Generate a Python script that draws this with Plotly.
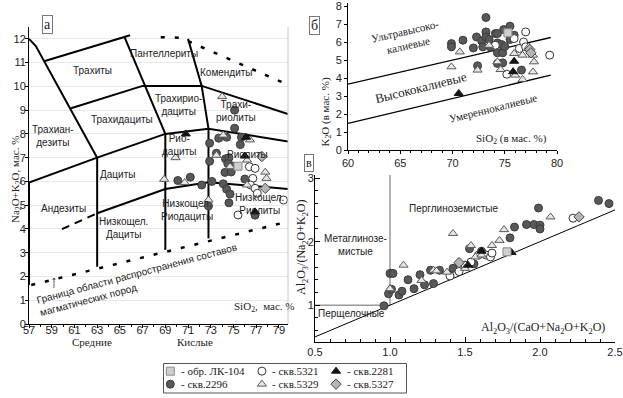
import plotly.graph_objects as go

W, H = 623, 398


def fx(px):
    return px / W


def fy(py):
    return 1 - py / H


# ---------------- data: panel а (TAS, SiO2 vs Na2O+K2O) ----------------
TAS_2296 = [(75.1, 9.0), (75.1, 8.24), (72.9, 7.61), (73.7, 7.82), (74.4, 7.86), (75.7, 7.86),
            (75.6, 7.55), (73.5, 7.19), (72.9, 6.85), (74.3, 6.95), (74.6, 7.0), (74.5, 6.75),
            (74.9, 6.65), (74.25, 6.38), (74.8, 6.4), (76.0, 6.1), (70.1, 6.04), (71.2, 6.18),
            (72.2, 5.85), (73.1, 6.0), (74.1, 5.9), (74.4, 5.67), (74.7, 5.47), (72.8, 4.97),
            (74.6, 5.1), (76.9, 4.58)]
TAS_5321 = [(76.4, 6.62), (76.9, 6.55), (76.7, 6.13), (76.5, 5.85), (76.9, 5.71), (77.1, 5.5),
            (75.4, 4.59), (79.4, 5.22)]
TAS_5329 = [(74.0, 9.57), (68.9, 6.09), (70.7, 5.95), (69.9, 7.0), (74.1, 7.95), (76.45, 7.75),
            (73.5, 7.1), (74.7, 6.62), (76.2, 6.9), (77.8, 6.39), (77.9, 6.13), (76.2, 5.85),
            (72.8, 5.22)]
TAS_2281 = [(70.8, 8.0), (76.0, 7.07), (76.1, 7.86), (76.9, 4.72)]
TAS_5327 = [(77.5, 7.05), (77.8, 5.71)]
TAS_LK104 = [(75.4, 6.64)]

# classification boundaries of panel а
TAS_SOLID = [
    [(57, 12.0), (57.6, 11.7), (63, 7.0)],
    [(58.4, 11.07), (65.9, 12.15)],
    [(60.7, 9.08), (67.0, 10.02), (72.2, 10.02), (79.8, 8.84)],
    [(65.4, 12.08), (69.0, 8.0)],
    [(71.0, 12.0), (72.2, 10.02), (72.8, 8.22)],
    [(57, 5.95), (63, 7.0), (69.0, 8.0), (72.8, 8.22), (79.8, 7.68)],
    [(72.8, 8.22), (72.8, 3.6)],
    [(69.0, 8.0), (69.0, 3.12)],
    [(63.0, 7.0), (63.0, 2.41)],
    [(57.0, 5.95), (57.0, 1.64)],
    [(63.0, 4.66), (69.0, 5.68), (72.8, 5.97), (79.8, 5.68)],
]
TAS_DASHED = [[(59.9, 3.99), (63.0, 4.66)]]
TAS_DOTTED = [
    [(57.2, 1.64), (79.2, 4.24)],
    [(68.6, 12.07), (70.3, 12.05), (71.5, 11.8), (79.5, 10.13)],
]

# ---------------- data: panel б (SiO2 vs K2O) ----------------
K_2296 = [(69.9, 5.91), (69.9, 5.73), (71.0, 6.10), (72.0, 5.67), (72.3, 6.28), (72.4, 4.68),
          (72.8, 6.06), (72.9, 5.73), (73.2, 7.36), (73.2, 6.56), (73.2, 6.28), (73.5, 6.14),
          (73.6, 5.73), (74.1, 6.47), (74.3, 6.47), (74.3, 5.95), (74.3, 5.40), (74.3, 4.81),
          (74.7, 5.86), (74.8, 5.40), (74.8, 4.84), (74.9, 6.69), (75.5, 6.88), (75.5, 6.14),
          (75.9, 6.38), (76.6, 4.44), (75.0, 5.75)]
K_5321 = [(74.1, 5.82), (75.2, 4.21), (76.4, 5.64), (76.8, 6.0), (77.0, 5.73), (77.0, 6.56),
          (79.3, 5.27), (75.9, 6.19)]
K_5329 = [(69.9, 4.62), (70.7, 5.45), (72.4, 4.44), (73.5, 5.82), (74.3, 4.90), (74.6, 4.47),
          (75.9, 5.36), (76.0, 4.16), (76.7, 5.27), (76.7, 3.92), (77.3, 5.73), (77.7, 5.27),
          (77.8, 4.90), (77.7, 4.34)]
K_2281 = [(70.6, 3.14), (75.8, 4.35), (75.9, 4.93)]
K_5327 = [(77.4, 5.58), (77.5, 5.4)]
K_LK104 = [(75.3, 6.51)]
K_LINES = [[(60, 3.66), (79.4, 6.25)], [(60, 1.48), (79.4, 4.16)]]

# ---------------- data: panel в (A/CNK vs A/NK) ----------------
A_2296 = [(0.96, 0.99), (1.0, 1.50), (1.02, 1.50), (0.99, 1.18), (1.01, 1.25), (1.06, 1.16),
          (1.08, 1.22), (1.12, 1.40), (1.16, 1.26), (1.20, 1.48), (1.23, 1.32), (1.29, 1.34),
          (1.27, 1.55), (1.33, 1.55), (1.42, 1.58), (1.53, 1.89), (1.56, 1.65), (1.61, 1.85),
          (1.80, 2.06), (1.83, 2.23), (1.91, 2.27), (1.96, 2.27), (1.99, 2.53), (2.0, 2.26),
          (2.0, 2.20), (2.39, 2.65), (2.46, 2.60)]
A_5321 = [(1.40, 1.46), (1.46, 1.53), (1.50, 1.63), (1.54, 1.68), (1.59, 1.79), (1.64, 1.79),
          (1.67, 1.76), (1.68, 1.82), (2.22, 2.37)]
A_5329 = [(1.0, 1.26), (1.09, 1.63), (1.21, 1.39), (1.29, 1.55), (1.31, 1.54), (1.38, 1.52),
          (1.42, 2.13), (1.46, 1.68), (1.50, 1.58), (1.54, 1.94), (1.57, 1.76), (1.61, 1.79),
          (1.68, 1.94), (1.73, 2.02), (1.76, 2.19), (2.07, 2.39)]
A_2281 = [(1.61, 1.85), (1.52, 1.63), (1.81, 1.83)]
A_5327 = [(2.26, 2.39), (1.46, 1.67)]
A_LK104 = [(1.78, 1.84)]
A_REF = [(0.5, 0.5), (2.5, 2.5)]
A_GRAY = [[(1.0, 1.0), (1.0, 3.05)], [(0.5, 1.0), (1.0, 1.0)]]

SERIES = ["скв.2296", "скв.5321", "скв.5329", "скв.2281", "скв.5327", "обр. ЛК-104"]
PANEL_DATA = {
    "a": [TAS_2296, TAS_5321, TAS_5329, TAS_2281, TAS_5327, TAS_LK104],
    "b": [K_2296, K_5321, K_5329, K_2281, K_5327, K_LK104],
    "c": [A_2296, A_5321, A_5329, A_2281, A_5327, A_LK104],
}
STYLE = {
    "обр. ЛК-104": dict(symbol="square", color="#cfcfcf", line=dict(color="#8a8a8a", width=1), size=8),
    "скв.2296": dict(symbol="circle", color="#585858", line=dict(color="#3c3c3c", width=1), size=8),
    "скв.5321": dict(symbol="circle", color="white", line=dict(color="#333333", width=1), size=8),
    "скв.5329": dict(symbol="triangle-up", color="#e6e6e6", line=dict(color="#5a5a5a", width=1), size=8),
    "скв.2281": dict(symbol="triangle-up", color="#151515", line=dict(color="#151515", width=1), size=8),
    "скв.5327": dict(symbol="diamond", color="#b4b4b4", line=dict(color="#454545", width=1), size=8),
}

fig = go.Figure()

AX = {"a": ("x", "y"), "b": ("x2", "y2"), "c": ("x3", "y3")}


def add_line(pts, ax, color="black", width=2, dash="solid"):
    fig.add_trace(go.Scatter(x=[p[0] for p in pts], y=[p[1] for p in pts], mode="lines",
                             xaxis=ax[0], yaxis=ax[1], line=dict(color=color, width=width, dash=dash),
                             hoverinfo="skip", showlegend=False))


for seg in TAS_SOLID:
    add_line(seg, AX["a"], width=2)
for seg in TAS_DASHED:
    add_line(seg, AX["a"], width=2, dash="8px,6px")
for seg in TAS_DOTTED:
    add_line(seg, AX["a"], width=2.5, dash="4px,10px")
for seg in K_LINES:
    add_line(seg, AX["b"], width=1.3)
for seg in A_GRAY:
    add_line(seg, AX["c"], color="#9a9a9a", width=1.5)
add_line(A_REF, AX["c"], width=1)

for key, lists in PANEL_DATA.items():
    for name, pts in zip(SERIES, lists):
        st = STYLE[name]
        fig.add_trace(go.Scatter(
            x=[p[0] for p in pts], y=[p[1] for p in pts], mode="markers",
            xaxis=AX[key][0], yaxis=AX[key][1], showlegend=False, name=name,
            marker=dict(symbol=st["symbol"], color=st["color"], size=st["size"], line=st["line"])))

# legend keys drawn on a helper axis
LEG_ORDER = ["обр. ЛК-104", "скв.5321", "скв.2281", "скв.2296", "скв.5329", "скв.5327"]
LEG_COL = [0.028, 0.405, 0.71]
LEG_ROW = [0.74, 0.30]
for i, name in enumerate(LEG_ORDER):
    st = STYLE[name]
    fig.add_trace(go.Scatter(x=[LEG_COL[i % 3]], y=[LEG_ROW[i // 3]], mode="markers",
                             xaxis="x4", yaxis="y4", showlegend=False,
                             marker=dict(symbol=st["symbol"], color=st["color"], size=8, line=st["line"])))

SANS = "Liberation Sans"
SERIF = "Liberation Serif"
tickfont = dict(family=SANS, size=11, color="#222")


def axis(domain, rng, **kw):
    d = dict(domain=domain, range=rng, showline=True, linecolor="black", linewidth=1,
             ticks="outside", ticklen=3, tickcolor="black", showgrid=False, zeroline=False,
             tickfont=tickfont, fixedrange=True, automargin=False, ticklabeloverflow="allow")
    d.update(kw)
    return d


MINOR = dict(ticks="outside", ticklen=2, tickcolor="black")
MINOR_IN = dict(ticks="inside", ticklen=3, tickcolor="black")
fig.update_layout(
    template="none",
    width=W, height=H, margin=dict(l=0, r=0, t=0, b=0, pad=0),
    paper_bgcolor="white", plot_bgcolor="white",
    xaxis=axis([fx(29), fx(288)], [57, 79.8], anchor="y", tick0=57, dtick=2,
               ticklabelstandoff=-7, minor=dict(dtick=1, **MINOR)),
    yaxis=axis([fy(324), fy(27)], [0, 12.5], anchor="x", tick0=0, dtick=1,
               ticklabelstandoff=-3, showgrid=True, gridcolor="#e8e8e8", gridwidth=1),
    xaxis2=axis([fx(348), fx(557)], [60, 80], anchor="y2", tick0=60, dtick=5,
                minor=dict(dtick=1, **MINOR)),
    yaxis2=axis([fy(150), fy(3.3)], [0, 8.15], anchor="x2", tick0=0, dtick=1),
    xaxis3=axis([fx(315), fx(615)], [0.5, 2.5], anchor="y3", tick0=0.5, dtick=0.5, tickformat=".1f",
                ticks="inside", ticklen=5, minor=dict(dtick=0.1, **MINOR_IN)),
    yaxis3=axis([fy(342), fy(175)], [0.42, 3.05], anchor="x3", tick0=1, dtick=1,
                ticks="inside", ticklen=5, ticklabelstandoff=-2, minor=dict(dtick=0.2, **MINOR_IN)),
    xaxis4=dict(domain=[fx(163.5), fx(406.5)], range=[0, 1], visible=False, anchor="y4",
                fixedrange=True, automargin=False),
    yaxis4=dict(domain=[fy(393), fy(363.5)], range=[0, 1], visible=False, anchor="x4",
                fixedrange=True, automargin=False),
    showlegend=False,
)

shapes = [
    dict(type="line", xref="paper", yref="paper", x0=fx(288), x1=fx(288), y0=fy(324), y1=fy(27),
         line=dict(color="#c8c8c8", width=1)),
    dict(type="rect", xref="paper", yref="paper", x0=fx(163.5), x1=fx(406.5), y0=fy(393), y1=fy(363.5),
         line=dict(color="#555", width=1)),
]
fig.update_layout(shapes=shapes)

ann = []


def txt(x, y, s, xref, yref, size=10, family=SANS, angle=0, align="center", **kw):
    d = dict(x=x, y=y, xref=xref, yref=yref, text=s, showarrow=False, textangle=angle, align=align,
             font=dict(family=family, size=size, color="#222"))
    d.update(kw)
    ann.append(d)


# panel а labels
for x, y, s in [
    (62.6, 10.65, "Трахиты"), (68.9, 11.37, "Пантеллериты"), (74.4, 10.57, "Комендиты"),
    (70.2, 9.2, "Трахирио-<br>дациты"), (75.2, 8.95, "Трахи-<br>риолиты"),
    (65.2, 8.6, "Трахидациты"), (59.1, 7.9, "Трахиан-<br>дезиты"), (70.2, 7.55, "Рио-<br>дациты"),
    (76.2, 7.15, "Риолиты"), (64.8, 6.3, "Дациты"), (60.0, 4.85, "Андезиты"),
    (65.3, 4.05, "Низкощел.<br>Дациты"), (70.9, 4.8, "Низкощел.<br>Риодациты"),
    (77.3, 5.05, "Низкощел.<br>Риолиты"),
]:
    txt(x, y, s, "x", "y")
txt(66.6, 1.85, "Граница области распространения составов<br>магматических пород", "x", "y",
    size=10, angle=-15, align="left")
ann.append(dict(x=59.2, y=1.95, ax=59.2, ay=1.45, xref="x", yref="y", axref="x", ayref="y",
                showarrow=True, arrowhead=1, arrowsize=0.8, arrowwidth=0.8, arrowcolor="#333", text=""))
txt(fx(264), fy(316), "SiO<sub>2</sub>,  мас. %", "paper", "paper", size=11, family=SERIF)
txt(fx(7), fy(180), "Na<sub>2</sub>O+K<sub>2</sub>O, мас. %", "paper", "paper", size=11, family=SERIF, angle=-90)
txt(fx(70), fy(350), "Средние", "paper", "paper", size=11, family=SERIF)
txt(fx(175), fy(350), "Кислые", "paper", "paper", size=11, family=SERIF)

# panel б labels
txt(65.6, 6.25, "Ультравысоко-<br>калиевые", "x2", "y2", size=11, family=SERIF, angle=-13)
txt(67.0, 3.45, "Высококалиевые", "x2", "y2", size=13, family=SERIF, angle=-14)
txt(73.9, 2.33, "Умереннокалиевые", "x2", "y2", size=11, family=SERIF, angle=-14)
txt(75.6, 0.62, "SiO<sub>2</sub> (в мас. %)", "x2", "y2", size=11, family=SERIF)
txt(fx(326), fy(76), "K<sub>2</sub>O (в мас. %)", "paper", "paper", size=11, family=SERIF, angle=-90)

# panel в labels
txt(1.42, 2.52, "Перглиноземистые", "x3", "y3", size=10)
txt(0.77, 1.95, "Метаглинозе-<br>мистые", "x3", "y3", size=10)
txt(0.74, 0.87, "Перщелочные", "x3", "y3", size=10)
txt(2.02, 0.64, "Al<sub>2</sub>O<sub>3</sub>/(CaO+Na<sub>2</sub>O+K<sub>2</sub>O)", "x3", "y3", size=12, family=SERIF)
txt(fx(302), fy(247), "Al<sub>2</sub>O<sub>3</sub>/(Na<sub>2</sub>O+K<sub>2</sub>O)", "paper", "paper",
    size=12, family=SERIF, angle=-90)

# panel letters
for px, py, s, sz in [(42, 15, "а", 14), (314, 16, "б", 14), (309, 163, "в", 12)]:
    txt(fx(px), fy(py), s, "paper", "paper", size=sz, family=SERIF,
        bordercolor="#777", borderwidth=1, borderpad=1, bgcolor="white")

# legend texts
for i, name in enumerate(LEG_ORDER):
    txt(LEG_COL[i % 3] + 0.035, LEG_ROW[i // 3], "- " + name, "x4", "y4", size=11, family=SERIF,
        xanchor="left")

fig.update_layout(annotations=ann)
fig.write_html("out.html", config={"displayModeBar": False, "staticPlot": True},
               post_script="document.body.style.margin='0px';")
